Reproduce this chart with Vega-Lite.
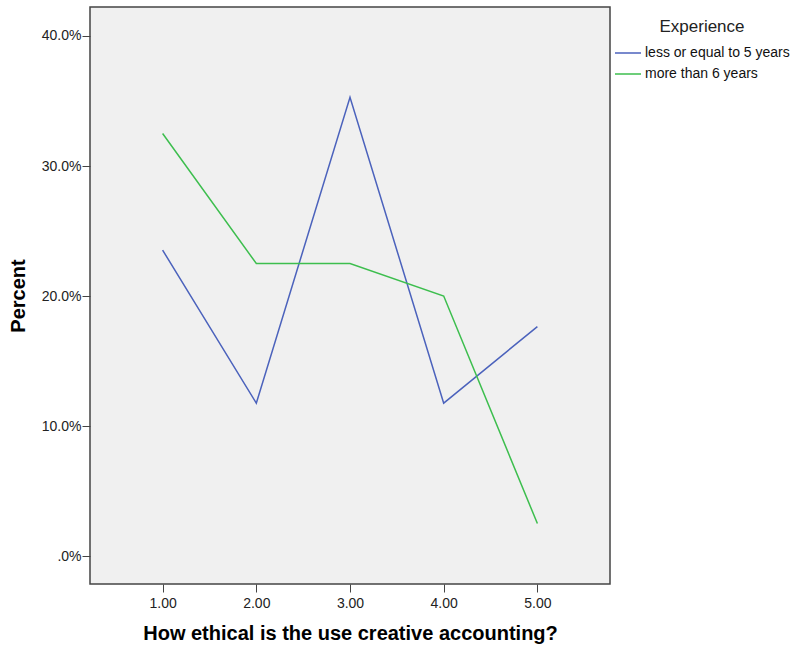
{
  "$schema": "https://vega.github.io/schema/vega-lite/v6.json",
  "width": 520,
  "height": 577,
  "autosize": {"type": "none"},
  "padding": {"left": 90, "top": 7, "right": 183, "bottom": 63},
  "background": "white",
  "config": {
    "font": "Liberation Sans",
    "view": {"fill": "#F0F0F0", "stroke": "#444444", "strokeWidth": 1.5}
  },
  "data": {
    "values": [
      {"x": 1, "pct": 23.53, "exp": "less or equal to 5 years"},
      {"x": 2, "pct": 11.76, "exp": "less or equal to 5 years"},
      {"x": 3, "pct": 35.29, "exp": "less or equal to 5 years"},
      {"x": 4, "pct": 11.76, "exp": "less or equal to 5 years"},
      {"x": 5, "pct": 17.65, "exp": "less or equal to 5 years"},
      {"x": 1, "pct": 32.5, "exp": "more than 6 years"},
      {"x": 2, "pct": 22.5, "exp": "more than 6 years"},
      {"x": 3, "pct": 22.5, "exp": "more than 6 years"},
      {"x": 4, "pct": 20.0, "exp": "more than 6 years"},
      {"x": 5, "pct": 2.5, "exp": "more than 6 years"}
    ]
  },
  "mark": {"type": "line", "strokeWidth": 1.5, "clip": true},
  "encoding": {
    "x": {
      "field": "x",
      "type": "quantitative",
      "scale": {"domain": [0.225, 5.775], "nice": false, "zero": false},
      "axis": {
        "values": [1, 2, 3, 4, 5],
        "format": ".2f",
        "title": "How ethical is the use creative accounting?",
        "titleFont": "Liberation Sans",
        "titleFontSize": 20,
        "titleFontWeight": "bold",
        "titleColor": "#000000",
        "titlePadding": 13,
        "labelFontSize": 14,
        "labelColor": "#222222",
        "labelPadding": 4,
        "tickColor": "#444444",
        "tickSize": 8,
        "grid": false,
        "domain": false
      }
    },
    "y": {
      "field": "pct",
      "type": "quantitative",
      "scale": {"domain": [-2.15, 42.23], "nice": false, "zero": false},
      "axis": {
        "values": [0, 10, 20, 30, 40],
        "labelExpr": "datum.value == 0 ? '.0%' : format(datum.value, '.1f') + '%'",
        "title": "Percent",
        "titleFont": "Liberation Sans",
        "titleFontSize": 20,
        "titleFontWeight": "bold",
        "titleColor": "#000000",
        "titlePadding": 13,
        "labelFontSize": 14,
        "labelColor": "#222222",
        "labelPadding": 1,
        "tickColor": "#444444",
        "tickSize": 8,
        "grid": false,
        "domain": false
      }
    },
    "color": {
      "field": "exp",
      "type": "nominal",
      "scale": {
        "domain": ["less or equal to 5 years", "more than 6 years"],
        "range": ["#4B62BC", "#3DBE4E"]
      },
      "legend": {
        "title": "Experience",
        "titleFontSize": 17,
        "titleFontWeight": "normal",
        "titleColor": "#222222",
        "titleAnchor": "middle",
        "titlePadding": 3,
        "labelFontSize": 14,
        "labelColor": "#111111",
        "symbolType": "stroke",
        "symbolSize": 676,
        "symbolStrokeWidth": 1.5,
        "rowPadding": -8,
        "labelOffset": 3,
        "orient": "none",
        "legendX": 524,
        "legendY": 12
      }
    }
  }
}
